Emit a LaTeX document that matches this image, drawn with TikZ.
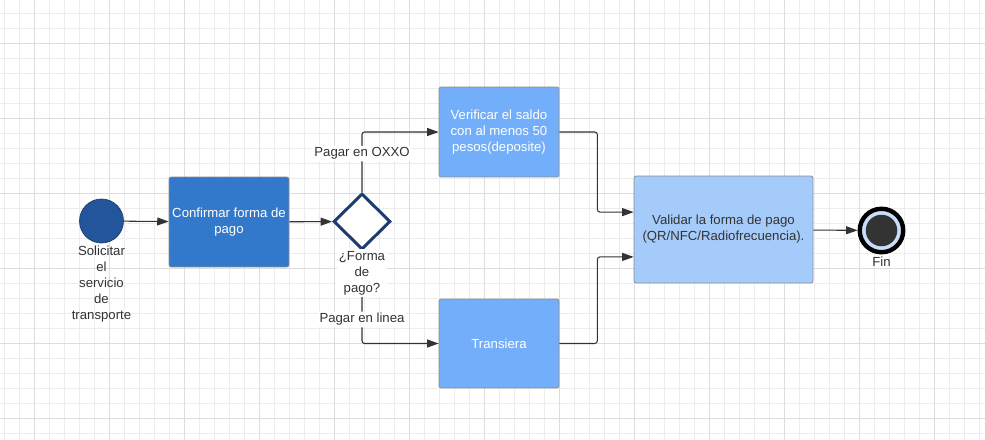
\documentclass[tikz,border=0pt]{standalone}
\usepackage{fontspec}
\setmainfont{Liberation Sans}
\usetikzlibrary{arrows.meta}
\usetikzlibrary{shapes.geometric}
\definecolor{gridmin}{HTML}{ECECEC}
\definecolor{gridmaj}{HTML}{DDDDDD}
\definecolor{startblue}{HTML}{23559A}
\definecolor{midblue}{HTML}{3278CB}
\definecolor{lightblue}{HTML}{72AEFA}
\definecolor{paleblue}{HTML}{A5CBFA}
\definecolor{navy}{HTML}{1C3D6E}
\definecolor{ink}{HTML}{333333}
\definecolor{ringblue}{HTML}{C7DDF8}

\begin{document}
\begin{tikzpicture}[x=0.02cm,y=-0.02cm,>={Triangle[length=6.5pt,width=4.5pt]}, % pixel units
  font=\fontsize{7.5}{9.1}\selectfont, text=ink,
  task/.style={rectangle,draw=black!45,line width=0.4pt,rounded corners=1.2pt,align=center,inner sep=0pt},
  flow/.style={->,draw=ink,line width=0.6pt,rounded corners=1.5pt},
  lbl/.style={fill=white,inner sep=1pt,align=center}]

  % background grid
  \useasboundingbox (0,0) rectangle (985,440);
  \begin{scope}
    \clip (0,0) rectangle (985,440);
    \fill[white] (0,0) rectangle (985,440);
    \foreach \x in {4,19,...,979} \draw[gridmin,line width=0.5pt] (\x,0) -- (\x,440);
    \foreach \y in {-1.7,13.3,...,440} \draw[gridmin,line width=0.5pt] (0,\y) -- (985,\y);
    \foreach \x in {34,109,...,979} \draw[gridmaj,line width=0.5pt] (\x,0) -- (\x,440);
    \foreach \y in {43.3,118.3,...,440} \draw[gridmaj,line width=0.5pt] (0,\y) -- (985,\y);
  \end{scope}

  \node[circle,draw=navy,fill=startblue,minimum size=0.88cm,inner sep=0pt](start) at (101.5,221) {};
  \node[task,fill=midblue,text=white,minimum width=2.4cm,minimum height=1.8cm](confirmar) at (229,222) {Confirmar forma de\\pago};
  \node[diamond,draw=navy,line width=1.7pt,fill=white,minimum width=1.14cm,minimum height=1.12cm,inner sep=0pt](pago) at (362,221.5) {};
  \node[task,fill=lightblue,text=white,minimum width=2.4cm,minimum height=1.8cm](verificar) at (499,132) {Verificar el saldo\\con al menos 50\\pesos(deposite)};
  \node[task,fill=lightblue,text=white,minimum width=2.4cm,minimum height=1.78cm](transiera) at (499,343.5) {Transiera};
  \node[task,fill=paleblue,minimum width=3.58cm,minimum height=2.14cm](validar) at (723.5,229.5) {Validar la forma de pago\\(QR/NFC/Radiofrecuencia).};
  \node[circle,draw=black,line width=2.5pt,fill=ringblue,minimum size=0.87cm,inner sep=0pt](fin) at (881.5,230.5) {};
  \node[circle,fill=ink,minimum size=0.63cm,inner sep=0pt](finin) at (fin) {};

  \draw[flow] (start) -- (confirmar);
  \draw[flow] (confirmar) -- (pago);
  \draw[flow] (pago.north) |- node[lbl,pos=.32](oxxo){Pagar en OXXO} (verificar.west);
  \draw[flow] (pago.south) |- node[lbl,pos=.37](linea){Pagar en linea} (transiera.west);
  \draw[flow] (verificar.east) -- ++(38,0) |- ([yshift=9.9pt]validar.west);
  \draw[flow] (transiera.east) -- ++(38,0) |- ([yshift=-15.6pt]validar.west);
  \draw[flow] (validar) -- (fin);

  \node[lbl](pregunta) at (362,273) {¿Forma\\de\\pago?};
  \node[align=center](solicitar) at (101.5,284.5) {Solicitar\\el\\servicio\\de\\transporte};
  \node(finlbl) at (881.5,262) {Fin};

\end{tikzpicture}
\end{document}
